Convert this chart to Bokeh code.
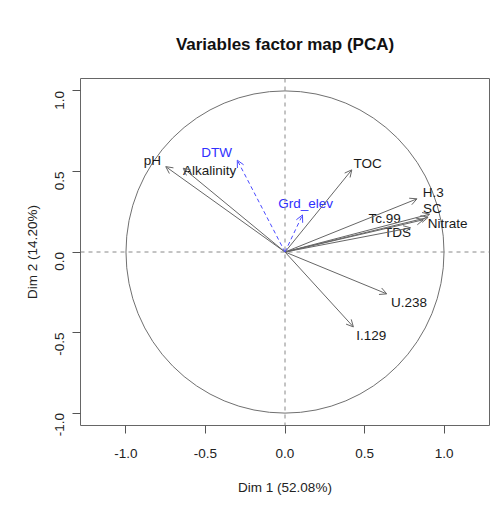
import numpy as np
from bokeh.plotting import figure
from bokeh.models import (Range1d, FixedTicker, Span, Arrow, OpenHead, ColumnDataSource,
                          NumeralTickFormatter)
from bokeh.core.properties import value
from bokeh.embed import file_html
from bokeh.resources import INLINE

# ---- data ----
var_names = ["pH", "Alkalinity", "TOC", "H.3", "SC", "Nitrate", "Tc.99", "TDS", "U.238", "I.129"]
dim1 = [-0.75, -0.64, 0.42, 0.83, 0.91, 0.90, 0.87, 0.79, 0.64, 0.43]
dim2 = [0.53, 0.52, 0.51, 0.33, 0.235, 0.215, 0.20, 0.15, -0.26, -0.465]
label_x = [-0.834, -0.474, 0.52, 0.933, 0.927, 1.023, 0.627, 0.707, 0.78, 0.543]
label_y = [0.570, 0.509, 0.552, 0.369, 0.273, 0.175, 0.206, 0.119, -0.311, -0.52]

sup_names = ["DTW", "Grd_elev"]
sup_dim1 = [-0.30, 0.11]
sup_dim2 = [0.57, 0.23]
sup_label_x = [-0.43, 0.13]
sup_label_y = [0.615, 0.30]

ticks = [-1.0, -0.5, 0.0, 0.5, 1.0]
title_text = "Variables factor map (PCA)"
x_title = "Dim 1 (52.08%)"
y_title = "Dim 2 (14.20%)"

FONT = "Liberation Sans"
ARROW_COL = "#666666"

p = figure(width=490, height=497, output_backend="svg", toolbar_location=None,
           x_range=Range1d(-1.286, 1.286), y_range=Range1d(-1.077, 1.077),
           min_border_left=80, min_border_right=1, min_border_top=78, min_border_bottom=69)

p.grid.visible = False
p.outline_line_color = "#666666"
p.outline_line_width = 1
p.background_fill_color = "white"
p.border_fill_color = "white"

p.title.text = title_text
p.title.align = "center"
p.title.text_font = FONT
p.title.text_font_size = "17px"
p.title.text_font_style = "bold"
p.title.text_color = "#111111"
p.title.standoff = 50

for ax in (p.xaxis[0], p.yaxis[0]):
    ax.ticker = FixedTicker(ticks=ticks)
    ax.formatter = NumeralTickFormatter(format="0.0")
    ax.axis_line_color = None
    ax.major_tick_line_color = "#555555"
    ax.major_tick_out = 8
    ax.major_tick_in = 0
    ax.minor_tick_line_color = None
    ax.major_label_text_font = FONT
    ax.major_label_text_font_size = "13.5px"
    ax.major_label_text_color = "#222222"
    ax.axis_label_text_font = FONT
    ax.axis_label_text_font_size = "13.5px"
    ax.axis_label_text_font_style = "normal"
    ax.axis_label_text_color = "#222222"

p.xaxis.axis_label = x_title
p.xaxis.major_label_standoff = 15
p.xaxis.axis_label_standoff = 19
p.yaxis.axis_label = y_title
p.yaxis.major_label_orientation = np.pi / 2
p.yaxis.major_label_standoff = 13
p.yaxis.axis_label_standoff = 8

# reference lines
p.add_layout(Span(location=0, dimension="height", line_color="#888888", line_dash="4 4", line_width=1))
p.add_layout(Span(location=0, dimension="width", line_color="#888888", line_dash="4 4", line_width=1))

# correlation circle
p.ellipse(x=0, y=0, width=2, height=2, fill_color=None, line_color="#707070", line_width=1)

# active variables
src = ColumnDataSource(dict(x=dim1, y=dim2, lx=label_x, ly=label_y, name=var_names))
p.add_layout(Arrow(end=OpenHead(size=7, line_color=ARROW_COL, line_width=1),
                   x_start=0, y_start=0, x_end="x", y_end="y", source=src,
                   line_color=ARROW_COL, line_width=1))
p.text(x="lx", y="ly", text="name", source=src, text_font=value(FONT), text_font_size="13.5px",
       text_align="center", text_baseline="middle", text_color="#1a1a1a")

# supplementary variables
ssrc = ColumnDataSource(dict(x=sup_dim1, y=sup_dim2, lx=sup_label_x, ly=sup_label_y, name=sup_names))
p.add_layout(Arrow(end=OpenHead(size=7, line_color="#4a4aff", line_width=1),
                   x_start=0, y_start=0, x_end="x", y_end="y", source=ssrc,
                   line_color="#4a4aff", line_width=1, line_dash="4 3"))
p.text(x="lx", y="ly", text="name", source=ssrc, text_font=value(FONT), text_font_size="13.5px",
       text_align="center", text_baseline="middle", text_color="#2f2fff")

open("out.html", "w").write(file_html(p, INLINE))
